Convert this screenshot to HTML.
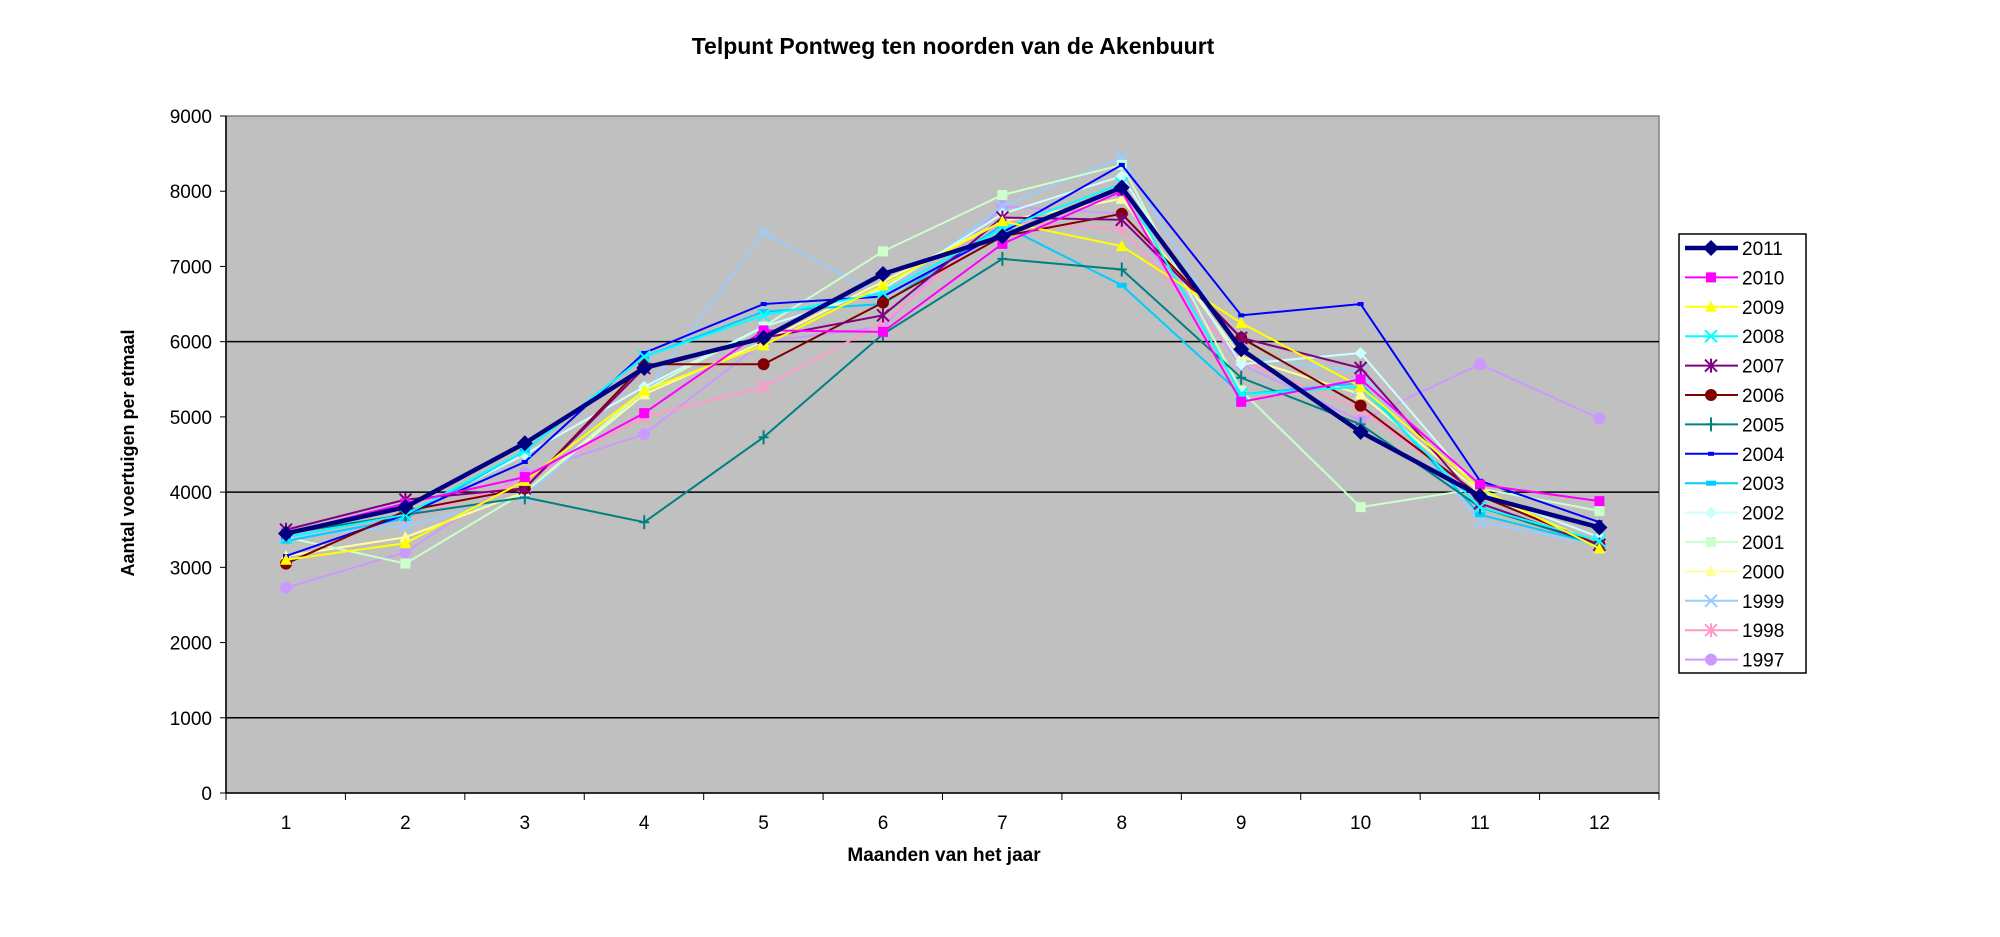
<!DOCTYPE html>
<html><head><meta charset="utf-8"><style>
html,body{margin:0;padding:0;background:#fff;}
svg{display:block;font-family:"Liberation Sans",Arial,sans-serif;}
</style></head><body>
<svg id="c" width="2000" height="937" xmlns="http://www.w3.org/2000/svg">
<rect width="2000" height="937" fill="#fff"/>
<text x="953" y="54" font-size="23" font-weight="bold" text-anchor="middle">Telpunt Pontweg ten noorden van de Akenbuurt</text>
<rect x="226" y="116" width="1433" height="677" fill="#c0c0c0" stroke="#808080" stroke-width="1.5"/>
<g id="grid"></g>
<g id="series"></g>
<line x1="226" y1="116" x2="226" y2="793" stroke="#000" stroke-width="1.5"/>
<line x1="226" y1="793" x2="1659" y2="793" stroke="#000" stroke-width="1.5"/>
<g id="ticks" font-size="19"></g>
<text x="944" y="861" font-size="19" font-weight="bold" text-anchor="middle">Maanden van het jaar</text>
<text transform="translate(134,453) rotate(-90)" font-size="18" font-weight="bold" text-anchor="middle">Aantal voertuigen per etmaal</text>
<rect x="1679" y="234" width="127" height="439" fill="#fff" stroke="#000" stroke-width="1.5"/>
<g id="legend" font-size="19"></g>
</svg>
<script>
const NS="http://www.w3.org/2000/svg";
function el(t,a,p,txt){const e=document.createElementNS(NS,t);for(const k in a)e.setAttribute(k,a[k]);if(txt!==undefined)e.textContent=txt;p.appendChild(e);return e;}
const X=m=>286+(m-1)*119.4, Y=v=>793-v*677/9000;
const grid=document.getElementById('grid'),ticks=document.getElementById('ticks');
[1000,4000,6000].forEach(v=>el('line',{x1:226,x2:1659,y1:Y(v),y2:Y(v),stroke:'#000','stroke-width':1.5},grid));
for(let v=0;v<=9000;v+=1000){el('line',{x1:220,x2:226,y1:Y(v),y2:Y(v),stroke:'#000'},ticks);el('text',{x:212,y:Y(v)+7,'text-anchor':'end'},ticks,v);}
for(let i=0;i<=12;i++){const x=226+i*1433/12;el('line',{x1:x,x2:x,y1:793,y2:800,stroke:'#000'},ticks);}
for(let m=1;m<=12;m++)el('text',{x:X(m),y:829,'text-anchor':'middle'},ticks,m);
const S=[
["2011","#000080","diamond",[3450,3800,4650,5650,6050,6900,7400,8050,5900,4800,3950,3530],4.5],
["2010","#ff00ff","square",[3450,3850,4200,5050,6150,6130,7300,8000,5200,5500,4100,3880],2],
["2009","#ffff00","tri",[3100,3320,4150,5350,5950,6750,7600,7270,6250,5400,4050,3250],2],
["2008","#00ffff","x",[3400,3700,4550,5800,6350,6650,7500,8100,5300,5400,3800,3350],2],
["2007","#800080","star",[3500,3900,4050,5650,6050,6350,7650,7620,6050,5650,3850,3300],2],
["2006","#800000","circle",[3050,3750,4050,5700,5700,6520,7400,7700,6050,5150,3950,3300],2],
["2005","#008080","plus",[3450,3700,3930,3600,4730,6100,7100,6960,5520,4900,3800,3300],2],
["2004","#0000ff","dot",[3150,3700,4400,5850,6500,6600,7450,8350,6350,6500,4150,3600],2],
["2003","#00ccff","dash",[3350,3650,4550,5800,6400,6500,7550,6750,5300,5450,3700,3300],2],
["2002","#ccffff","diamond",[3450,3700,4500,5400,6200,6700,7700,8200,5700,5850,4000,3400],2],
["2001","#ccffcc","square",[3400,3050,4000,5350,6200,7200,7950,8350,5350,3800,4050,3750],2],
["2000","#ffff99","tri",[3150,3400,4000,5300,6000,6800,7600,7900,5800,5300,4000,3300],2],
["1999","#99ccff","x",[3400,3550,3950,5300,7450,6600,7800,8450,5800,5600,3600,3300],2],
["1998","#ff99cc","star",[3450,3650,4150,5000,5400,6250,7600,7500,5750,5100,3950,3300],2],
["1997","#cc99ff","circle",[2730,3200,4250,4770,6000,6200,7800,7700,5700,4950,5700,4980],2]];
function marker(g,t,x,y,c,big){const r=big?8:6;
switch(t){case"diamond":el('polygon',{points:`${x},${y-r} ${x+r},${y} ${x},${y+r} ${x-r},${y}`,fill:c},g);break;
case"square":el('rect',{x:x-5,y:y-5,width:10,height:10,fill:c},g);break;
case"tri":el('polygon',{points:`${x},${y-6} ${x+6},${y+5} ${x-6},${y+5}`,fill:c},g);break;
case"circle":el('circle',{cx:x,cy:y,r:6,fill:c},g);break;
case"x":el('path',{d:`M${x-6} ${y-6}L${x+6} ${y+6}M${x+6} ${y-6}L${x-6} ${y+6}`,stroke:c,'stroke-width':2},g);break;
case"star":el('path',{d:`M${x-6} ${y-6}L${x+6} ${y+6}M${x+6} ${y-6}L${x-6} ${y+6}M${x} ${y-7}L${x} ${y+7}`,stroke:c,'stroke-width':2},g);break;
case"plus":el('path',{d:`M${x} ${y-7}L${x} ${y+7}M${x-5} ${y}L${x+5} ${y}`,stroke:c,'stroke-width':2},g);break;
case"dot":el('rect',{x:x-3,y:y-2,width:6,height:4,fill:c},g);break;
case"dash":el('rect',{x:x-5,y:y-2.5,width:10,height:5,fill:c},g);break;}}
const sg=document.getElementById('series'),lg=document.getElementById('legend');
for(let i=S.length-1;i>=0;i--){const [n,c,t,d,w]=S[i];
el('polyline',{points:d.map((v,k)=>X(k+1)+","+Y(v)).join(" "),fill:"none",stroke:c,'stroke-width':w},sg);
d.forEach((v,k)=>marker(sg,t,X(k+1),Y(v),c,i==0));}
S.forEach(([n,c,t,d,w],i)=>{const y=248+i*29.4;
el('line',{x1:1685,x2:1738,y1:y,y2:y,stroke:c,'stroke-width':w},lg);marker(lg,t,1711,y,c,i==0);
el('text',{x:1742,y:y+7},lg,n);});
</script>
</body></html>
